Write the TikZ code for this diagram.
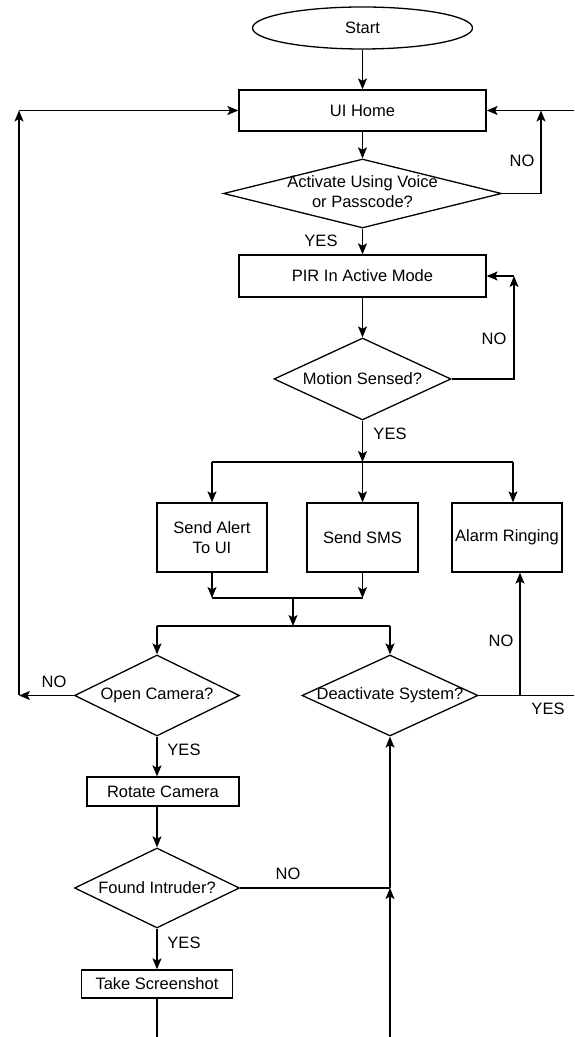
\documentclass[tikz,border=0pt]{standalone}
\usepackage{fontspec}
\setmainfont{Liberation Sans}
\usetikzlibrary{arrows.meta}
\usetikzlibrary{shapes.geometric}
\newcommand{\nowidth}[1]{\makebox[0pt]{#1}}
\tikzset{startstop/.style = {draw, ellipse, inner sep = 0, minimum width = 220pt, minimum height = 42pt}}
\tikzset{process/.style = {draw, rectangle, inner sep = 0, align = center}}
\tikzset{decision/.style = {draw, diamond, inner sep = 0}}
\tikzset{lbl/.style = {inner sep = 0}}
\tikzset{arr/.style = {-{Stealth[length = 11pt, width = 9pt, inset = 2.5pt]}}}

\begin{document}
\begin{tikzpicture}[x = 1pt, y = 1pt, line width = 1.3pt, font = \fontsize{16.5}{19.5}\selectfont]
    \useasboundingbox (0, 0) rectangle (574, 1037);

    \node [startstop] (start) at (362.5, 1009) {Start};
    \node [process, minimum width = 247pt, minimum height = 41pt] (home) at (362.5, 926.5) {UI Home};
    \node [decision, minimum width = 278pt, minimum height = 69pt] (voice) at (362.5, 843.5)
      {\nowidth{\begin{tabular}{@{}c@{}}Activate Using Voice\\ or Passcode?\end{tabular}}};
    \node [process, minimum width = 247pt, minimum height = 42pt] (pir) at (362.5, 761) {PIR In Active Mode};
    \node [decision, minimum width = 177pt, minimum height = 82pt] (motion) at (362.5, 658) {\nowidth{Motion Sensed?}};

    \node [process, minimum width = 110pt, minimum height = 69pt] (alert) at (212, 499.5) {Send Alert\\ To UI};
    \node [process, minimum width = 111pt, minimum height = 69pt] (sms) at (362.5, 499.5) {Send SMS};
    \node [process, minimum width = 110pt, minimum height = 69pt] (alarm) at (507, 499.5) {Alarm Ringing};

    \node [decision, minimum width = 165pt, minimum height = 81pt] (camera) at (157, 341.5) {\nowidth{Open Camera?}};
    \node [decision, minimum width = 176pt, minimum height = 81pt] (deact) at (390, 341.5) {\nowidth{Deactivate System?}};
    \node [process, minimum width = 152pt, minimum height = 29pt] (rotate) at (163, 245.5) {Rotate Camera};
    \node [decision, minimum width = 165pt, minimum height = 80pt] (intruder) at (157, 149) {\nowidth{Found Intruder?}};
    \node [process, minimum width = 151pt, minimum height = 28pt] (shot) at (157, 53) {Take Screenshot};

    \node [lbl] (no1) at (522, 876) {NO};
    \node [lbl] (yes1) at (321, 796) {YES};
    \node [lbl] (no2) at (494, 698) {NO};
    \node [lbl] (yes2) at (390, 603) {YES};
    \node [lbl] (no3) at (54, 355) {NO};
    \node [lbl] (yes3) at (184, 287) {YES};
    \node [lbl] (no4) at (501, 396) {NO};
    \node [lbl] (yes4) at (548, 328) {YES};
    \node [lbl] (no5) at (288, 163) {NO};
    \node [lbl] (yes5) at (184, 94) {YES};

    \coordinate (homeloop) at (541, 926.5);
    \coordinate (homeedge) at (574, 926.5);
    \coordinate (pirloop) at (514, 761);
    \coordinate (split) at (362.5, 575);
    \coordinate (splitl) at (212, 575);
    \coordinate (splitr) at (513, 575);
    \coordinate (mergel) at (212, 439);
    \coordinate (merger) at (362.5, 439);
    \coordinate (mergem) at (293, 439);
    \coordinate (fork) at (293, 411);
    \coordinate (forkl) at (157, 411);
    \coordinate (forkr) at (390, 411);
    \coordinate (leftloop) at (19, 341.5);
    \coordinate (lefttop) at (19, 926.5);
    \coordinate (alarmup) at (520, 341.5);
    \coordinate (rightedge) at (574, 341.5);
    \coordinate (join) at (390, 149);
    \coordinate (bottomr) at (390, 0);
    \coordinate (bottoml) at (157, 0);

    \draw [arr] (start) -- (home);
    \draw [arr] (home) -- (voice);
    \draw [arr] (voice) -- (pir);
    \draw [arr] (voice.east) -| (homeloop);
    \draw [arr] (homeedge) -- (home.east);

    \draw [arr] (pir) -- (motion);
    \draw [arr] (motion.east) -| (pirloop);
    \draw [arr] (pirloop) -- (pir.east);

    \draw [arr] (motion) -- (split);
    \draw (splitl) -- (splitr);
    \draw [arr] (splitl) -- (alert);
    \draw [arr] (split) -- (sms);
    \draw [arr] (splitr) -- (splitr |- alarm.north);

    \draw [arr] (alert) -- (mergel);
    \draw [arr] (sms) -- (merger);
    \draw (mergel) -- (merger);
    \draw [arr] (mergem) -- (fork);
    \draw (forkl) -- (forkr);
    \draw [arr] (forkl) -- (camera);
    \draw [arr] (forkr) -- (deact);

    \draw [arr] (camera.west) -- (leftloop);
    \draw [arr] (leftloop) -- (lefttop);
    \draw [arr] (lefttop) -- (home.west);

    \draw (deact.east) -- (rightedge);
    \draw [arr] (alarmup) -- (alarmup |- alarm.south);

    \draw [arr] (camera) -- (camera.south |- rotate.north);
    \draw [arr] (rotate.south -| intruder.north) -- (intruder);
    \draw (intruder.east) -- (join);
    \draw [arr] (join) -- (deact);
    \draw [arr] (bottomr) -- (join);
    \draw [arr] (intruder) -- (shot);
    \draw (shot) -- (bottoml);
  \end{tikzpicture}
\end{document}
